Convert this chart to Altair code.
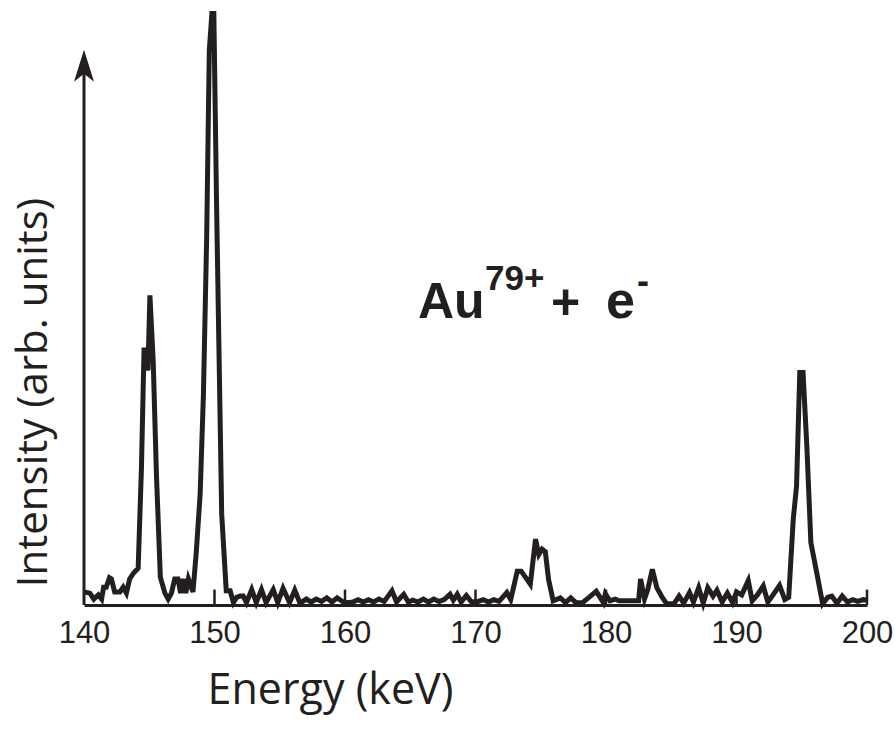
import altair as alt
import pandas as pd

# ---- data ----
energy = [
    140.0, 140.45, 140.75, 141.1, 141.35, 141.5, 141.7, 141.95, 142.1, 142.35,
    142.75, 143.0, 143.25, 143.5, 143.8, 144.15, 144.4, 144.6, 144.85, 144.9,
    145.05, 145.3, 145.55, 145.85, 146.2, 146.45, 146.7, 146.95, 147.2, 147.4,
    147.6, 147.8, 148.0, 148.35, 148.6, 148.9, 149.15, 149.4, 149.6, 149.8,
    149.95, 150.15, 150.35, 150.55, 150.9, 151.2, 151.45, 151.7, 151.95, 152.2,
    152.45, 152.85, 153.2, 153.6, 153.95, 154.5, 154.85, 155.25, 155.75, 156.15,
    156.55, 157.05, 157.4, 157.8, 158.2, 158.6, 159.0, 159.4, 159.8, 160.2,
    160.6, 161.0, 161.4, 161.8, 162.2, 162.6, 163.0, 163.6, 163.95, 164.5,
    164.85, 165.2, 165.6, 166.0, 166.4, 166.8, 167.2, 167.6, 168.05, 168.3,
    168.6, 168.9, 169.3, 169.7, 170.2, 170.6, 171.0, 171.4, 171.8, 172.4,
    172.7, 173.2, 173.5, 174.2, 174.6, 174.85, 175.1, 175.35, 175.6, 175.95,
    176.5, 176.9, 177.3, 177.7, 178.2, 178.65, 179.25, 179.8, 179.95, 180.3,
    180.7, 181.0, 181.5, 182.0, 182.5, 182.65, 182.95, 183.2, 183.55, 183.9,
    184.3, 184.65, 185.2, 185.6, 185.95, 186.4, 186.7, 187.1, 187.45, 187.8,
    188.2, 188.5, 188.9, 189.3, 189.7, 190.0, 190.4, 190.9, 191.2, 191.6,
    192.05, 192.4, 192.8, 193.3, 193.7, 194.0, 194.35, 194.6, 194.85, 195.1,
    195.4, 195.7, 196.1, 196.6, 197.0, 197.3, 197.7, 198.1, 198.5, 198.9,
    199.3, 199.7, 200.0,
]
intensity = [
    2.2, 2.0, 1.0, 1.7, 1.0, 3.0, 3.0, 4.6, 4.4, 2.2,
    2.2, 3.0, 2.0, 4.4, 5.4, 6.2, 23.0, 43.0, 43.0, 39.5,
    52.2, 41.3, 22.0, 4.7, 2.0, 1.0, 2.0, 4.4, 4.4, 2.0,
    4.4, 2.0, 4.4, 2.2, 8.8, 18.7, 35.4, 62.0, 93.4, 99.7,
    99.7, 68.7, 42.0, 15.4, 2.4, 2.4, 0.4, 1.3, 1.5, 1.5,
    0.4, 2.6, 0.4, 2.6, 0.4, 2.6, 0.4, 2.8, 0.4, 2.5,
    0.3, 1.0, 0.5, 1.0, 0.6, 1.2, 0.5, 1.2, 0.6, 0.4,
    0.5, 0.9, 0.5, 0.9, 0.5, 1.0, 0.6, 2.4, 0.5, 1.8,
    0.5, 0.8, 0.5, 1.0, 0.5, 1.0, 0.6, 0.9, 1.8, 0.8,
    1.8, 0.5, 1.6, 0.5, 0.6, 0.9, 0.5, 0.9, 0.6, 2.1,
    0.9, 5.7, 5.7, 3.5, 11.1, 8.5, 9.4, 9.0, 4.3, 0.7,
    1.2, 0.4, 1.2, 0.4, 0.4, 1.2, 2.3, 0.4, 1.9, 0.7,
    1.0, 0.7, 0.7, 0.7, 0.7, 4.4, 1.0, 2.6, 6.0, 2.9,
    1.3, 0.2, 0.2, 1.5, 0.3, 2.1, 0.5, 2.9, 0.3, 2.9,
    1.5, 2.5, 0.5, 2.0, 0.4, 2.2, 1.7, 4.1, 0.7, 1.7,
    3.2, 0.5, 1.7, 3.3, 0.9, 1.3, 14.5, 20.0, 39.2, 39.2,
    26.3, 10.5, 6.0, 0.2, 1.3, 1.5, 0.3, 1.5, 0.5, 0.9,
    0.6, 0.9, 0.8,
]
tick_marks = [150, 160, 170, 180, 190, 200]
tick_labels = [140, 150, 160, 170, 180, 190, 200]

INK = "#231f20"
W, H = 783, 595

spec = pd.DataFrame({"E": energy, "I": intensity})
xs = alt.Scale(domain=[140, 200], nice=False, zero=False)
ys = alt.Scale(domain=[0, 100.3], nice=False, zero=False)

line = alt.Chart(spec).mark_line(
    color=INK, strokeWidth=5, strokeJoin="miter"
).encode(
    x=alt.X("E:Q", scale=xs, axis=alt.Axis(
        values=tick_labels, format="d", grid=False, ticks=False,
        domainColor=INK, domainWidth=3,
        labelFont="Liberation Sans", labelFontSize=31, labelColor=INK,
        labelPadding=13, labelFlush=False, labelOverlap=False,
        title="Energy (keV)", titleFont="Open Sans", titleFontSize=43,
        titleFontWeight="normal", titleColor=INK,
        titleX=246, titleY=85, titleAlign="center", titleBaseline="middle",
    )),
    y=alt.Y("I:Q", scale=ys, axis=alt.Axis(
        domain=False, ticks=False, labels=False, grid=False,
        title="Intensity (arb. units)", titleFont="Open Sans", titleFontSize=42,
        titleFontWeight="normal", titleColor=INK, titleAngle=270,
        titleX=-51, titleY=382, titleAlign="center", titleBaseline="middle",
    )),
)

blank = alt.Data(values=[{}])

yaxis = alt.Chart(blank).mark_rule(color=INK, strokeWidth=3).encode(
    x=alt.datum(140, scale=xs), y=alt.datum(0, scale=ys), y2=alt.datum(91.5)
)

arrow = alt.Chart(blank).mark_point(
    shape="M0,-1L0.625,1L0,0.5L-0.625,1Z", size=1024, filled=True,
    color=INK, opacity=1, strokeWidth=0
).encode(x=alt.datum(140, scale=xs), y=alt.datum(90.9, scale=ys))

ticks = alt.Chart(pd.DataFrame({"E": tick_marks})).mark_rule(
    color=INK, strokeWidth=2.5
).encode(x=alt.X("E:Q", scale=xs), y=alt.datum(0, scale=ys), y2=alt.datum(2.6))

FONT = "Liberation Sans"

def label(txt, x, y, size):
    return alt.Chart(blank).mark_text(
        text=txt, x=x, y=y, fontSize=size, font=FONT, fontWeight="bold",
        color=INK, align="left", baseline="alphabetic"
    )

texts = [
    label("Au", 334, 308, 50),
    label("79+", 401, 280, 35),
    label("+", 467, 309, 50),
    label("e", 522, 308, 52),
    label("-", 553, 283, 36),
]

chart = alt.layer(line, yaxis, arrow, ticks, *texts).properties(
    width=W, height=H,
    padding={"left": 84, "top": 10, "right": 29, "bottom": 133},
    autosize=alt.AutoSizeParams(type="none"),
    background="white",
).configure_view(stroke=None)

chart.save("out.html", embed_options={"renderer": "svg", "actions": False})
